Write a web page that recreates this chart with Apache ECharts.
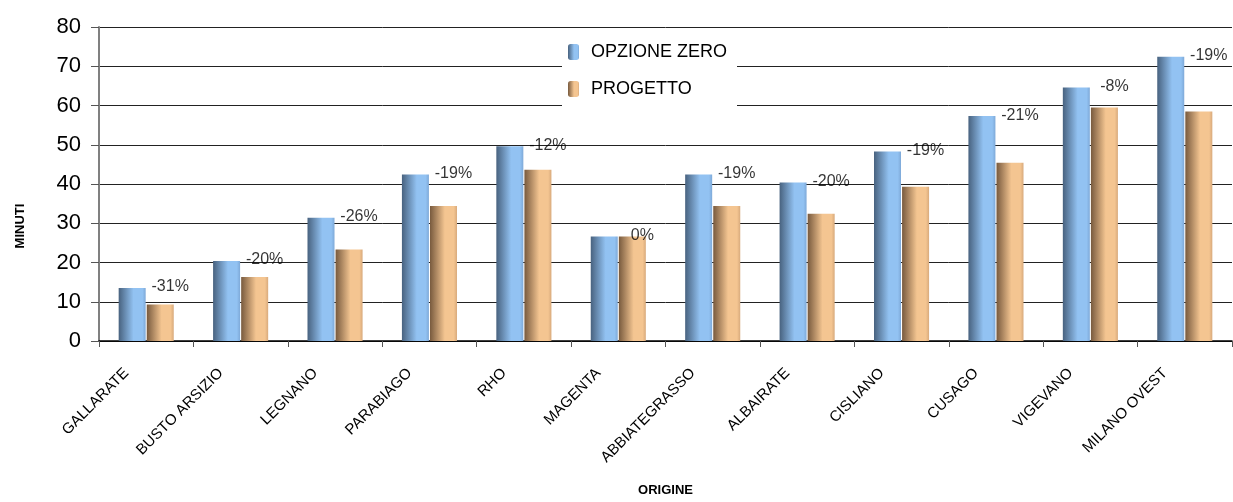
<!DOCTYPE html>
<html>
<head>
<meta charset="utf-8">
<script src="https://cdn.jsdelivr.net/npm/echarts@6/dist/echarts.min.js"></script>
<style>
  html, body { margin: 0; padding: 0; background: #fff; }
  #chart { width: 1233px; height: 502px; }
</style>
</head>
<body>
<div id="chart"></div>
<script>
// Travel time (minutes) by origin: current network vs. project scenario
const origini = ['GALLARATE', 'BUSTO ARSIZIO', 'LEGNANO', 'PARABIAGO', 'RHO', 'MAGENTA',
  'ABBIATEGRASSO', 'ALBAIRATE', 'CISLIANO', 'CUSAGO', 'VIGEVANO', 'MILANO OVEST'];
const opzioneZero = [13.5, 20.4, 31.4, 42.4, 49.6, 26.6, 42.4, 40.4, 48.3, 57.3, 64.6, 72.4];
const progetto    = [9.3, 16.3, 23.3, 34.4, 43.6, 26.6, 34.4, 32.4, 39.3, 45.4, 59.5, 58.5];
const variazione  = ['-31%', '-20%', '-26%', '-19%', '-12%', '0%', '-19%', '-20%', '-19%', '-21%', '-8%', '-19%'];
const yTicks = [0, 10, 20, 30, 40, 50, 60, 70, 80];

const FONT = '"Liberation Sans", Arial, sans-serif';

function barGradient(dark, light, edge) {
  return new echarts.graphic.LinearGradient(0, 0, 1, 0, [
    { offset: 0, color: dark },
    { offset: 0.55, color: light },
    { offset: 0.88, color: light },
    { offset: 1, color: edge }
  ]);
}

const chart = echarts.init(document.getElementById('chart'), null, { renderer: 'canvas' });

chart.setOption({
  animation: false,
  backgroundColor: '#ffffff',
  grid: { left: 99, right: 1, top: 27, bottom: 152, containLabel: false },
  legend: {
    data: ['OPZIONE ZERO', 'PROGETTO'],
    orient: 'vertical',
    left: 562,
    top: 35,
    backgroundColor: '#ffffff',
    padding: [8, 10, 8, 6],
    itemGap: 19,
    itemWidth: 11,
    itemHeight: 16,
    textStyle: { fontFamily: FONT, fontSize: 18, color: '#000', padding: [0, 0, 0, 7] }
  },
  xAxis: {
    type: 'category',
    data: origini,
    name: 'ORIGINE',
    nameLocation: 'middle',
    nameGap: 143,
    nameTextStyle: { fontFamily: FONT, fontSize: 13, fontWeight: 'bold', color: '#000' },
    axisLine: { lineStyle: { color: '#000', width: 1.5 } },
    axisTick: { show: true, alignWithLabel: false, length: 6, lineStyle: { color: '#555' } },
    axisLabel: {
      interval: 0,
      rotate: 45,
      margin: 10,
      padding: [0, 28, 0, 0],
      fontFamily: FONT,
      fontSize: 15,
      color: '#000'
    }
  },
  yAxis: {
    type: 'value',
    min: yTicks[0],
    max: yTicks[yTicks.length - 1],
    interval: 10,
    name: 'MINUTI',
    nameLocation: 'middle',
    nameGap: 72,
    nameRotate: 90,
    nameTextStyle: {
      fontFamily: FONT, fontSize: 13, fontWeight: 'bold', color: '#000',
      padding: [0, 84, 0, 0]
    },
    axisLine: { show: true, lineStyle: { color: '#808080', width: 2 } },
    axisTick: { show: true, length: 8, lineStyle: { color: '#555' } },
    axisLabel: { margin: 18, fontFamily: FONT, fontSize: 22, color: '#000' },
    splitLine: { show: true, lineStyle: { color: '#222', width: 1 } }
  },
  series: [
    {
      name: 'OPZIONE ZERO',
      type: 'bar',
      data: opzioneZero,
      barWidth: 27,
      barGap: '4%',
      itemStyle: { color: barGradient('#48627f', '#92c2f2', '#7ea9d8') }
    },
    {
      name: 'PROGETTO',
      type: 'bar',
      data: progetto,
      barWidth: 27,
      itemStyle: { color: barGradient('#785a3e', '#f4c591', '#d8aa7c') }
    },
    {
      // percentage change, written beside the top of each pair
      name: 'variazione',
      type: 'scatter',
      data: opzioneZero,
      symbolSize: 0,
      silent: true,
      z: 5,
      label: {
        show: true,
        position: 'inside',
        offset: [24, -1],
        formatter: p => variazione[p.dataIndex],
        fontFamily: FONT,
        fontSize: 16,
        color: '#000'
      }
    }
  ]
});
</script>
</body>
</html>
